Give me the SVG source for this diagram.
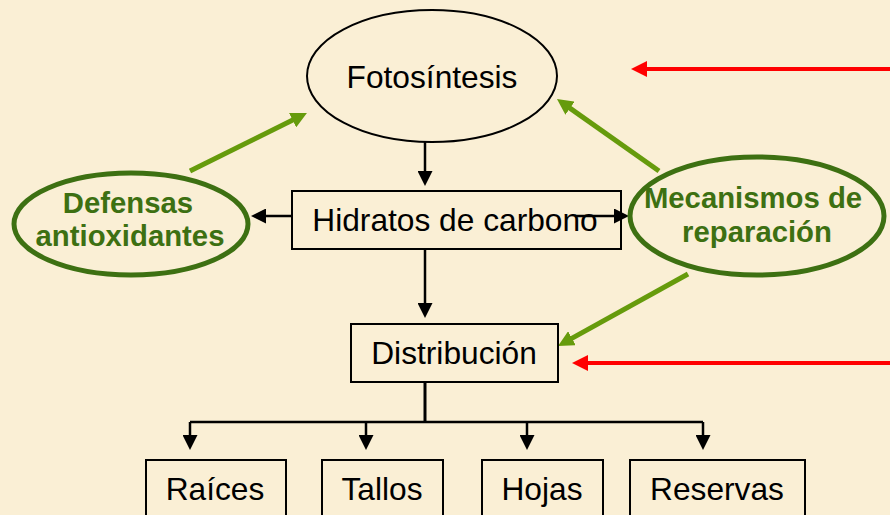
<svg xmlns="http://www.w3.org/2000/svg" width="890" height="515" viewBox="0 0 890 515">
  <style>
    .box { fill: none; stroke: #000; stroke-width: 2; }
    .oval { fill: none; stroke: #000; stroke-width: 2; }
    .goval { fill: none; stroke: #3D7012; stroke-width: 5; }
    .t { font-family: "Liberation Sans", Arial, sans-serif; font-size: 31.7px; fill: #000; text-anchor: middle; }
    .g { font-family: "Liberation Sans", Arial, sans-serif; font-size: 29.3px; font-weight: bold; fill: #3D7012; text-anchor: middle; }
    .blk { fill: none; stroke: #000; stroke-width: 2.5; }
    .grn { fill: none; stroke: #669B0C; stroke-width: 5; }
    .red { fill: none; stroke: #FF0000; stroke-width: 4; }
  </style>
  <defs>
    <marker id="ab" markerUnits="userSpaceOnUse" markerWidth="15" markerHeight="15" refX="7" refY="7.5" orient="auto" viewBox="0 0 15 15">
      <path d="M0,0 L15,7.5 L0,15 z" fill="#000"/>
    </marker>
    <marker id="ag" markerUnits="userSpaceOnUse" markerWidth="16" markerHeight="16" refX="8" refY="8" orient="auto" viewBox="0 0 16 16">
      <path d="M0,0 L16,8 L0,16 z" fill="#669B0C"/>
    </marker>
    <marker id="ar" markerUnits="userSpaceOnUse" markerWidth="16" markerHeight="16" refX="8" refY="8" orient="auto" viewBox="0 0 16 16">
      <path d="M0,0 L16,8 L0,16 z" fill="#FF0000"/>
    </marker>
  </defs>
  <rect x="0" y="0" width="890" height="515" fill="#FAEFD5"/>

  <g id="connectors">
    <path class="blk" d="M425,142 L425,178" marker-end="url(#ab)"/>
    <path class="blk" d="M292,216 L259,216" marker-end="url(#ab)"/>
    <path class="blk" d="M575,216 L621,216" marker-end="url(#ab)"/>
    <path class="blk" d="M425,249 L425,310" marker-end="url(#ab)"/>
    <path class="blk" d="M425,382 L425,422" style="stroke-width:3"/>
    <path class="blk" d="M190,422 L703,422"/>
    <path class="blk" d="M190,422 L190,442" marker-end="url(#ab)"/>
    <path class="blk" d="M366,422 L366,442" marker-end="url(#ab)"/>
    <path class="blk" d="M527,422 L527,442" marker-end="url(#ab)"/>
    <path class="blk" d="M703,422 L703,442" marker-end="url(#ab)"/>
    <path class="grn" d="M190,171 L299.8,116.6" marker-end="url(#ag)"/>
    <path class="grn" d="M659,171 L563.5,103.6" marker-end="url(#ag)"/>
    <path class="grn" d="M688,274 L565,342.1" marker-end="url(#ag)"/>
    <path class="red" d="M890,69 L639,69" marker-end="url(#ar)"/>
    <path class="red" d="M890,363 L580,363" marker-end="url(#ar)"/>
  </g>

  <g id="fotosintesis">
    <ellipse class="oval" cx="432" cy="76" rx="125" ry="66"/>
    <text class="t" x="432" y="88">Fotosíntesis</text>
  </g>
  <g id="hidratos">
    <rect class="box" x="292" y="191" width="329" height="58"/>
    <text class="t" x="455" y="231">Hidratos de carbono</text>
  </g>
  <g id="defensas">
    <ellipse class="goval" cx="131" cy="224" rx="117" ry="51"/>
    <text class="g" x="128" y="213">Defensas</text>
    <text class="g" x="130" y="246">antioxidantes</text>
  </g>
  <g id="mecanismos">
    <ellipse class="goval" cx="757" cy="216" rx="127" ry="59"/>
    <text class="g" x="753" y="208">Mecanismos de</text>
    <text class="g" x="757" y="242">reparación</text>
  </g>
  <g id="distribucion">
    <rect class="box" x="351" y="324" width="207" height="58"/>
    <text class="t" x="454" y="364">Distribución</text>
  </g>
  <g id="raices">
    <rect class="box" x="146" y="460" width="140" height="62"/>
    <text class="t" x="215" y="500">Raíces</text>
  </g>
  <g id="tallos">
    <rect class="box" x="322" y="460" width="121" height="62"/>
    <text class="t" x="382" y="500">Tallos</text>
  </g>
  <g id="hojas">
    <rect class="box" x="482" y="460" width="121" height="62"/>
    <text class="t" x="542" y="500">Hojas</text>
  </g>
  <g id="reservas">
    <rect class="box" x="630" y="460" width="175" height="62"/>
    <text class="t" x="717" y="500">Reservas</text>
  </g>
</svg>
